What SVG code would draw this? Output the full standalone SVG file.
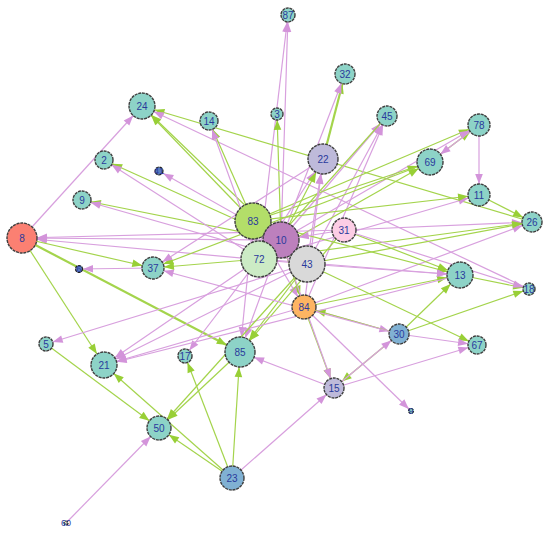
<svg xmlns="http://www.w3.org/2000/svg" width="550" height="539" viewBox="0 0 550 539">
<style>
.p{stroke:#d8a0de;stroke-width:1.2;fill:none}
.g{stroke:#a4d44c;stroke-width:1.2;fill:none}
.t{stroke-width:2.2}
.n circle{stroke:#3f3f3f;stroke-width:1.4;stroke-dasharray:3 0.8}
.n text{font-family:"Liberation Sans",Arial,sans-serif;font-size:10px;fill:#2a3a9c;text-anchor:middle;dominant-baseline:central}
.s circle{stroke:#222;stroke-width:1.2}
.s text{font-size:9px}
</style>
<defs>
<marker id="p3" viewBox="-12 -6 14 12" markerWidth="14" markerHeight="12" markerUnits="userSpaceOnUse" refX="3" refY="0" orient="auto"><path d="M0,0L-10,-3.8L-10,3.8Z" fill="#d394da"/></marker>
<marker id="p4" viewBox="-12 -6 14 12" markerWidth="14" markerHeight="12" markerUnits="userSpaceOnUse" refX="4" refY="0" orient="auto"><path d="M0,0L-10,-3.8L-10,3.8Z" fill="#d394da"/></marker>
<marker id="p5" viewBox="-12 -6 14 12" markerWidth="14" markerHeight="12" markerUnits="userSpaceOnUse" refX="5" refY="0" orient="auto"><path d="M0,0L-10,-3.8L-10,3.8Z" fill="#d394da"/></marker>
<marker id="p6" viewBox="-12 -6 14 12" markerWidth="14" markerHeight="12" markerUnits="userSpaceOnUse" refX="6" refY="0" orient="auto"><path d="M0,0L-10,-3.8L-10,3.8Z" fill="#d394da"/></marker>
<marker id="p7" viewBox="-12 -6 14 12" markerWidth="14" markerHeight="12" markerUnits="userSpaceOnUse" refX="7" refY="0" orient="auto"><path d="M0,0L-10,-3.8L-10,3.8Z" fill="#d394da"/></marker>
<marker id="p9" viewBox="-12 -6 14 12" markerWidth="14" markerHeight="12" markerUnits="userSpaceOnUse" refX="9" refY="0" orient="auto"><path d="M0,0L-10,-3.8L-10,3.8Z" fill="#d394da"/></marker>
<marker id="p10" viewBox="-12 -6 14 12" markerWidth="14" markerHeight="12" markerUnits="userSpaceOnUse" refX="10" refY="0" orient="auto"><path d="M0,0L-10,-3.8L-10,3.8Z" fill="#d394da"/></marker>
<marker id="p11" viewBox="-12 -6 14 12" markerWidth="14" markerHeight="12" markerUnits="userSpaceOnUse" refX="11" refY="0" orient="auto"><path d="M0,0L-10,-3.8L-10,3.8Z" fill="#d394da"/></marker>
<marker id="p12" viewBox="-12 -6 14 12" markerWidth="14" markerHeight="12" markerUnits="userSpaceOnUse" refX="12" refY="0" orient="auto"><path d="M0,0L-10,-3.8L-10,3.8Z" fill="#d394da"/></marker>
<marker id="p13" viewBox="-12 -6 14 12" markerWidth="14" markerHeight="12" markerUnits="userSpaceOnUse" refX="13" refY="0" orient="auto"><path d="M0,0L-10,-3.8L-10,3.8Z" fill="#d394da"/></marker>
<marker id="p15" viewBox="-12 -6 14 12" markerWidth="14" markerHeight="12" markerUnits="userSpaceOnUse" refX="15" refY="0" orient="auto"><path d="M0,0L-10,-3.8L-10,3.8Z" fill="#d394da"/></marker>
<marker id="p18" viewBox="-12 -6 14 12" markerWidth="14" markerHeight="12" markerUnits="userSpaceOnUse" refX="18" refY="0" orient="auto"><path d="M0,0L-10,-3.8L-10,3.8Z" fill="#d394da"/></marker>
<marker id="g6" viewBox="-12 -6 14 12" markerWidth="14" markerHeight="12" markerUnits="userSpaceOnUse" refX="6" refY="0" orient="auto"><path d="M0,0L-10,-3.8L-10,3.8Z" fill="#98cf36"/></marker>
<marker id="g7" viewBox="-12 -6 14 12" markerWidth="14" markerHeight="12" markerUnits="userSpaceOnUse" refX="7" refY="0" orient="auto"><path d="M0,0L-10,-3.8L-10,3.8Z" fill="#98cf36"/></marker>
<marker id="g9" viewBox="-12 -6 14 12" markerWidth="14" markerHeight="12" markerUnits="userSpaceOnUse" refX="9" refY="0" orient="auto"><path d="M0,0L-10,-3.8L-10,3.8Z" fill="#98cf36"/></marker>
<marker id="g10" viewBox="-12 -6 14 12" markerWidth="14" markerHeight="12" markerUnits="userSpaceOnUse" refX="10" refY="0" orient="auto"><path d="M0,0L-10,-3.8L-10,3.8Z" fill="#98cf36"/></marker>
<marker id="g11" viewBox="-12 -6 14 12" markerWidth="14" markerHeight="12" markerUnits="userSpaceOnUse" refX="11" refY="0" orient="auto"><path d="M0,0L-10,-3.8L-10,3.8Z" fill="#98cf36"/></marker>
<marker id="g12" viewBox="-12 -6 14 12" markerWidth="14" markerHeight="12" markerUnits="userSpaceOnUse" refX="12" refY="0" orient="auto"><path d="M0,0L-10,-3.8L-10,3.8Z" fill="#98cf36"/></marker>
<marker id="g13" viewBox="-12 -6 14 12" markerWidth="14" markerHeight="12" markerUnits="userSpaceOnUse" refX="13" refY="0" orient="auto"><path d="M0,0L-10,-3.8L-10,3.8Z" fill="#98cf36"/></marker>
<marker id="g15" viewBox="-12 -6 14 12" markerWidth="14" markerHeight="12" markerUnits="userSpaceOnUse" refX="15" refY="0" orient="auto"><path d="M0,0L-10,-3.8L-10,3.8Z" fill="#98cf36"/></marker>
<marker id="g18" viewBox="-12 -6 14 12" markerWidth="14" markerHeight="12" markerUnits="userSpaceOnUse" refX="18" refY="0" orient="auto"><path d="M0,0L-10,-3.8L-10,3.8Z" fill="#98cf36"/></marker>
</defs>
<rect width="550" height="539" fill="#ffffff"/>
<g id="edges">
<line class="p" x1="259" y1="259" x2="288" y2="15" marker-end="url(#p7)"/>
<line class="p" x1="281" y1="240" x2="288" y2="15" marker-end="url(#p7)"/>
<line class="g t" x1="323" y1="159" x2="345" y2="74" marker-end="url(#g10)"/>
<line class="p" x1="281" y1="240" x2="345" y2="74" marker-end="url(#p10)"/>
<line class="g" x1="281" y1="240" x2="277" y2="114" marker-end="url(#g6)"/>
<line class="p" x1="22" y1="238" x2="142" y2="106" marker-end="url(#p13)"/>
<line class="g" x1="532" y1="222" x2="142" y2="106" marker-end="url(#g13)"/>
<line class="g" x1="253" y1="221" x2="142" y2="106" marker-end="url(#g13)"/>
<line class="g" x1="281" y1="240" x2="142" y2="106" marker-end="url(#g13)"/>
<line class="p" x1="529" y1="289" x2="142" y2="106" marker-end="url(#p13)"/>
<line class="g" x1="253" y1="221" x2="209" y2="121" marker-end="url(#g9)"/>
<line class="p" x1="259" y1="259" x2="209" y2="121" marker-end="url(#p9)"/>
<line class="p" x1="307" y1="264" x2="387" y2="116" marker-end="url(#p10)"/>
<line class="p" x1="304" y1="307" x2="387" y2="116" marker-end="url(#p10)"/>
<line class="p" x1="281" y1="240" x2="387" y2="116" marker-end="url(#p10)"/>
<line class="g" x1="387" y1="116" x2="259" y2="259" marker-end="url(#g18)"/>
<line class="g" x1="430" y1="162" x2="479" y2="125" marker-end="url(#g11)"/>
<line class="p" x1="479" y1="125" x2="430" y2="162" marker-end="url(#p13)"/>
<line class="g" x1="253" y1="221" x2="479" y2="125" marker-end="url(#g11)"/>
<line class="p" x1="281" y1="240" x2="479" y2="125" marker-end="url(#p11)"/>
<line class="p" x1="479" y1="125" x2="479" y2="195" marker-end="url(#p11)"/>
<line class="g" x1="253" y1="221" x2="430" y2="162" marker-end="url(#g13)"/>
<line class="g" x1="259" y1="259" x2="430" y2="162" marker-end="url(#g13)"/>
<line class="p" x1="259" y1="259" x2="479" y2="195" marker-end="url(#p11)"/>
<line class="g" x1="253" y1="221" x2="479" y2="195" marker-end="url(#g11)"/>
<line class="g" x1="479" y1="195" x2="532" y2="222" marker-end="url(#g10)"/>
<line class="p" x1="344" y1="230" x2="532" y2="222" marker-end="url(#p10)"/>
<line class="g" x1="307" y1="264" x2="532" y2="222" marker-end="url(#g10)"/>
<line class="p" x1="304" y1="307" x2="532" y2="222" marker-end="url(#p10)"/>
<line class="g" x1="259" y1="259" x2="532" y2="222" marker-end="url(#g10)"/>
<line class="p" x1="344" y1="230" x2="22" y2="238" marker-end="url(#p15)"/>
<line class="p" x1="281" y1="240" x2="22" y2="238" marker-end="url(#p15)"/>
<line class="p" x1="307" y1="264" x2="22" y2="238" marker-end="url(#p15)"/>
<line class="g" x1="281" y1="240" x2="82" y2="200" marker-end="url(#g9)"/>
<line class="p" x1="307" y1="264" x2="82" y2="200" marker-end="url(#p9)"/>
<line class="g" x1="281" y1="240" x2="104" y2="160" marker-end="url(#g9)"/>
<line class="p" x1="259" y1="259" x2="104" y2="160" marker-end="url(#p9)"/>
<line class="p" x1="281" y1="240" x2="159" y2="171" marker-end="url(#p5)"/>
<line class="p" x1="259" y1="259" x2="323" y2="159" marker-end="url(#p15)"/>
<line class="g" x1="281" y1="240" x2="323" y2="159" marker-end="url(#g15)"/>
<line class="p" x1="304" y1="307" x2="323" y2="159" marker-end="url(#p15)"/>
<line class="p" x1="307" y1="264" x2="323" y2="159" marker-end="url(#p15)"/>
<line class="g" x1="344" y1="230" x2="460" y2="275" marker-end="url(#g13)"/>
<line class="g" x1="253" y1="221" x2="460" y2="275" marker-end="url(#g13)"/>
<line class="p" x1="307" y1="264" x2="460" y2="275" marker-end="url(#p13)"/>
<line class="g" x1="304" y1="307" x2="460" y2="275" marker-end="url(#g13)"/>
<line class="g" x1="399" y1="334" x2="460" y2="275" marker-end="url(#g13)"/>
<line class="p" x1="259" y1="259" x2="460" y2="275" marker-end="url(#p13)"/>
<line class="g" x1="460" y1="275" x2="529" y2="289" marker-end="url(#g6)"/>
<line class="p" x1="344" y1="230" x2="529" y2="289" marker-end="url(#p6)"/>
<line class="g" x1="399" y1="334" x2="529" y2="289" marker-end="url(#g6)"/>
<line class="g" x1="307" y1="264" x2="477" y2="345" marker-end="url(#g9)"/>
<line class="p" x1="399" y1="334" x2="477" y2="345" marker-end="url(#p9)"/>
<line class="p" x1="334" y1="388" x2="477" y2="345" marker-end="url(#p9)"/>
<line class="p" x1="304" y1="307" x2="399" y2="334" marker-end="url(#p10)"/>
<line class="g" x1="399" y1="334" x2="304" y2="307" marker-end="url(#g12)"/>
<line class="g" x1="281" y1="240" x2="304" y2="307" marker-end="url(#g12)"/>
<line class="p" x1="253" y1="221" x2="304" y2="307" marker-end="url(#p12)"/>
<line class="g" x1="304" y1="307" x2="334" y2="388" marker-end="url(#g10)"/>
<line class="g" x1="399" y1="334" x2="334" y2="388" marker-end="url(#g10)"/>
<line class="p" x1="334" y1="388" x2="399" y2="334" marker-end="url(#p10)"/>
<line class="p" x1="232" y1="478" x2="334" y2="388" marker-end="url(#p10)"/>
<line class="p" x1="281" y1="240" x2="334" y2="388" marker-end="url(#p10)"/>
<line class="p" x1="304" y1="307" x2="411" y2="411" marker-end="url(#p3)"/>
<line class="p" x1="334" y1="388" x2="240" y2="352" marker-end="url(#p15)"/>
<line class="g t" x1="22" y1="238" x2="240" y2="352" marker-end="url(#g15)"/>
<line class="g" x1="232" y1="478" x2="240" y2="352" marker-end="url(#g15)"/>
<line class="p" x1="253" y1="221" x2="240" y2="352" marker-end="url(#p15)"/>
<line class="p" x1="281" y1="240" x2="240" y2="352" marker-end="url(#p15)"/>
<line class="g" x1="307" y1="264" x2="240" y2="352" marker-end="url(#g15)"/>
<line class="g" x1="344" y1="230" x2="240" y2="352" marker-end="url(#g15)"/>
<line class="p" x1="259" y1="259" x2="185" y2="356" marker-end="url(#p7)"/>
<line class="g" x1="232" y1="478" x2="185" y2="356" marker-end="url(#g7)"/>
<line class="g" x1="22" y1="238" x2="104" y2="365" marker-end="url(#g13)"/>
<line class="g" x1="232" y1="478" x2="104" y2="365" marker-end="url(#g13)"/>
<line class="p" x1="307" y1="264" x2="104" y2="365" marker-end="url(#p13)"/>
<line class="p" x1="304" y1="307" x2="104" y2="365" marker-end="url(#p13)"/>
<line class="p" x1="460" y1="275" x2="104" y2="365" marker-end="url(#p13)"/>
<line class="p" x1="259" y1="259" x2="104" y2="365" marker-end="url(#p13)"/>
<line class="p" x1="307" y1="264" x2="46" y2="344" marker-end="url(#p7)"/>
<line class="g" x1="46" y1="344" x2="159" y2="428" marker-end="url(#g12)"/>
<line class="p" x1="66" y1="523" x2="159" y2="428" marker-end="url(#p12)"/>
<line class="g" x1="240" y1="352" x2="159" y2="428" marker-end="url(#g12)"/>
<line class="g" x1="307" y1="264" x2="159" y2="428" marker-end="url(#g12)"/>
<line class="g" x1="232" y1="478" x2="159" y2="428" marker-end="url(#g12)"/>
<line class="g" x1="22" y1="238" x2="153" y2="268" marker-end="url(#g11)"/>
<line class="p" x1="153" y1="268" x2="79" y2="269" marker-end="url(#p4)"/>
<line class="g" x1="430" y1="162" x2="153" y2="268" marker-end="url(#g11)"/>
<line class="p" x1="323" y1="159" x2="153" y2="268" marker-end="url(#p11)"/>
<line class="g" x1="259" y1="259" x2="153" y2="268" marker-end="url(#g11)"/>
<line class="p" x1="399" y1="334" x2="153" y2="268" marker-end="url(#p11)"/>
<line class="p" x1="344" y1="230" x2="281" y2="240" marker-end="url(#p18)"/>
</g>
<g id="node-87" class="n"><circle cx="288" cy="15" r="7" fill="#8dd3c7"/><text x="288" y="15">87</text></g>
<g id="node-32" class="n"><circle cx="345" cy="74" r="10" fill="#8dd3c7"/><text x="345" y="74">32</text></g>
<g id="node-24" class="n"><circle cx="142" cy="106" r="13" fill="#8dd3c7"/><text x="142" y="106">24</text></g>
<g id="node-14" class="n"><circle cx="209" cy="121" r="9" fill="#8dd3c7"/><text x="209" y="121">14</text></g>
<g id="node-3" class="n"><circle cx="277" cy="114" r="6" fill="#8dd3c7"/><text x="277" y="114">3</text></g>
<g id="node-45" class="n"><circle cx="387" cy="116" r="10" fill="#8dd3c7"/><text x="387" y="116">45</text></g>
<g id="node-78" class="n"><circle cx="479" cy="125" r="11" fill="#8dd3c7"/><text x="479" y="125">78</text></g>
<g id="node-2" class="n"><circle cx="104" cy="160" r="9" fill="#8dd3c7"/><text x="104" y="160">2</text></g>
<g id="node-41" class="n s"><circle cx="159" cy="171" r="4" fill="#5b7fc0"/><text x="159" y="171">41</text></g>
<g id="node-22" class="n"><circle cx="323" cy="159" r="15" fill="#bebada"/><text x="323" y="159">22</text></g>
<g id="node-69" class="n"><circle cx="430" cy="162" r="13" fill="#8dd3c7"/><text x="430" y="162">69</text></g>
<g id="node-11" class="n"><circle cx="479" cy="195" r="11" fill="#8dd3c7"/><text x="479" y="195">11</text></g>
<g id="node-9" class="n"><circle cx="82" cy="200" r="9" fill="#8dd3c7"/><text x="82" y="200">9</text></g>
<g id="node-83" class="n"><circle cx="253" cy="221" r="18" fill="#b3de69"/><text x="253" y="221">83</text></g>
<g id="node-10" class="n"><circle cx="281" cy="240" r="18" fill="#bc80bd"/><text x="281" y="240">10</text></g>
<g id="node-72" class="n"><circle cx="259" cy="259" r="18" fill="#ccebc5"/><text x="259" y="259">72</text></g>
<g id="node-43" class="n"><circle cx="307" cy="264" r="18" fill="#d9d9d9"/><text x="307" y="264">43</text></g>
<g id="node-31" class="n"><circle cx="344" cy="230" r="12" fill="#fccde5"/><text x="344" y="230">31</text></g>
<g id="node-26" class="n"><circle cx="532" cy="222" r="10" fill="#8dd3c7"/><text x="532" y="222">26</text></g>
<g id="node-8" class="n"><circle cx="22" cy="238" r="15" fill="#fb8072"/><text x="22" y="238">8</text></g>
<g id="node-37" class="n"><circle cx="153" cy="268" r="11" fill="#8dd3c7"/><text x="153" y="268">37</text></g>
<g id="node-6" class="n s"><circle cx="79" cy="269" r="3.5" fill="#5b7fc0"/><text x="79" y="269">6</text></g>
<g id="node-13" class="n"><circle cx="460" cy="275" r="13" fill="#8dd3c7"/><text x="460" y="275">13</text></g>
<g id="node-18" class="n"><circle cx="529" cy="289" r="6" fill="#8dd3c7"/><text x="529" y="289">18</text></g>
<g id="node-84" class="n"><circle cx="304" cy="307" r="12" fill="#fdb462"/><text x="304" y="307">84</text></g>
<g id="node-30" class="n"><circle cx="399" cy="334" r="10" fill="#80b1d3"/><text x="399" y="334">30</text></g>
<g id="node-67" class="n"><circle cx="477" cy="345" r="9" fill="#8dd3c7"/><text x="477" y="345">67</text></g>
<g id="node-5" class="n"><circle cx="46" cy="344" r="7" fill="#8dd3c7"/><text x="46" y="344">5</text></g>
<g id="node-21" class="n"><circle cx="104" cy="365" r="13" fill="#8dd3c7"/><text x="104" y="365">21</text></g>
<g id="node-17" class="n"><circle cx="185" cy="356" r="7" fill="#8dd3c7"/><text x="185" y="356">17</text></g>
<g id="node-85" class="n"><circle cx="240" cy="352" r="15" fill="#8dd3c7"/><text x="240" y="352">85</text></g>
<g id="node-15" class="n"><circle cx="334" cy="388" r="10" fill="#bebada"/><text x="334" y="388">15</text></g>
<g id="node-9b" class="n s"><circle cx="411" cy="411" r="2.5" fill="#8dd3c7"/><text x="411" y="411">9</text></g>
<g id="node-50" class="n"><circle cx="159" cy="428" r="12" fill="#8dd3c7"/><text x="159" y="428">50</text></g>
<g id="node-23" class="n"><circle cx="232" cy="478" r="12" fill="#80b1d3"/><text x="232" y="478">23</text></g>
<g id="node-60" class="n s"><circle cx="66" cy="523" r="2" fill="#ffffb3"/><text x="66" y="523">60</text></g>
</svg>
